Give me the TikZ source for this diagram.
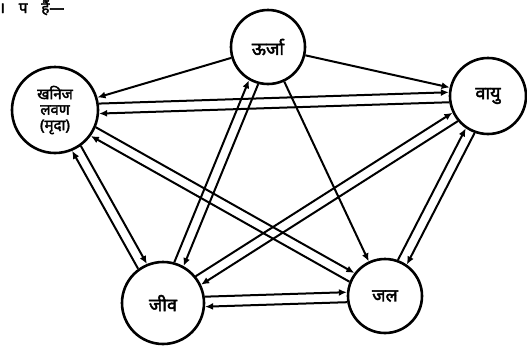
\documentclass[tikz,border=0pt]{standalone}
\usepackage{fontspec}
\newfontfamily\dev[Script=Devanagari,FakeBold=2.5]{Noto Sans}
\usetikzlibrary{arrows.meta,calc}
\newcommand\pairedge[4]{%
  \draw[conn,shorten <=#3,shorten >=#4] ($(#1)!5pt!90:(#2)$) -- ($(#2)!5pt!-90:(#1)$);
  \draw[conn,shorten <=#4,shorten >=#3] ($(#2)!5pt!90:(#1)$) -- ($(#1)!5pt!-90:(#2)$);}
\begin{document}
\begin{tikzpicture}[x=1pt,y=-1pt,
  place/.style={circle,draw,line width=2.6pt,inner sep=0pt,align=center,
    font=\dev\fontsize{18}{19}\selectfont},
  conn/.style={line width=2pt,-{Latex[length=8pt,width=7pt]}}]
\useasboundingbox (0,0) rectangle (527,346);
\node[anchor=base west,inner sep=0pt,font=\dev\fontsize{15}{16}\selectfont] (hd) at (-1,13) {।\hspace{14pt}प\hspace{14pt}हैं—};
\node[place,minimum size=74pt] (ur) at (268,47) {ऊर्जा};
\node[place,minimum size=86pt,font=\dev\fontsize{15}{15.5}\selectfont] (kh) at (55,110) {खनिज\\लवण\\(मृदा)};
\node[place,minimum size=76pt] (va) at (488,96) {वायु};
\node[place,minimum size=74pt] (ja) at (385,296) {जल};
\node[place,minimum size=82pt] (ji) at (163,303) {जीव};
\draw[conn] (ur) -- (kh);
\draw[conn] (ur) -- (va);
\draw[conn] (ur) -- (ja);
\pairedge{ur}{ji}{38pt}{42pt}
\pairedge{kh}{va}{44pt}{39pt}
\pairedge{kh}{ji}{44pt}{42pt}
\pairedge{kh}{ja}{44pt}{38pt}
\pairedge{va}{ji}{39pt}{42pt}
\pairedge{va}{ja}{39pt}{38pt}
\pairedge{ji}{ja}{42pt}{38pt}
\end{tikzpicture}
\end{document}
